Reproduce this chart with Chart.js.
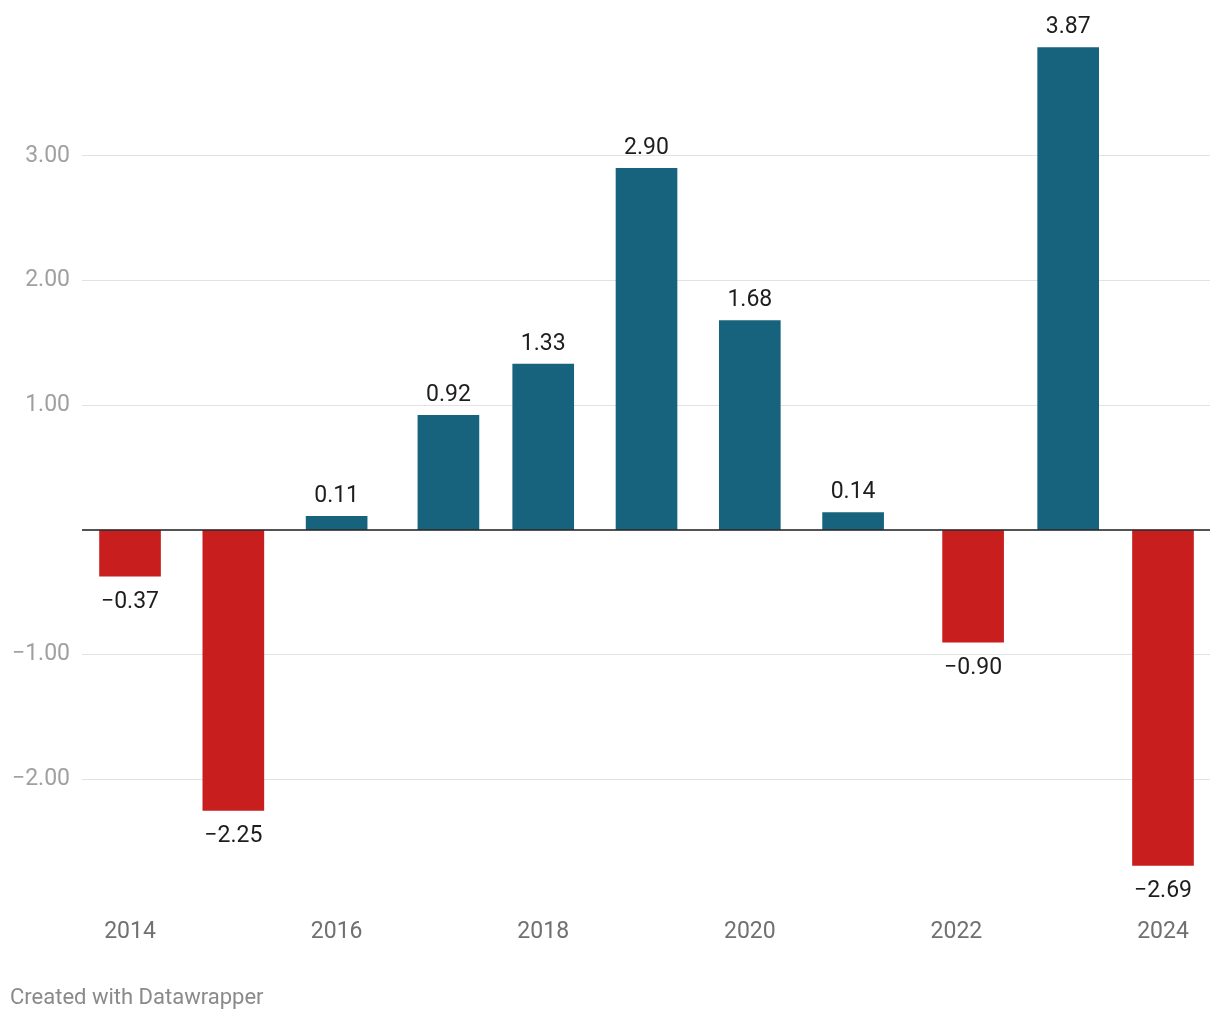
<!DOCTYPE html>
<html>
<head>
<meta charset="utf-8">
<script src="https://cdn.jsdelivr.net/npm/chart.js@4/dist/chart.umd.min.js"></script>
<style>
  html, body { margin: 0; padding: 0; background: #ffffff; }
  #wrap { position: relative; width: 1220px; height: 1020px; }
  #footer { position: absolute; left: 10px; top: 984px; font: 22px Roboto, sans-serif; color: #8a8a8a; line-height: 26px; }
</style>
</head>
<body>
<div id="wrap">
  <canvas id="chart" width="1220" height="1020"></canvas>
  <div id="footer">Created with Datawrapper</div>
</div>
<script>
// Data
const dates = ['2014-01-01', '2015-01-01', '2016-01-01', '2017-01-31', '2018-01-01', '2019-01-01',
               '2020-01-01', '2021-01-01', '2022-03-01', '2023-01-31', '2024-01-01'];
const values = [-0.37, -2.25, 0.11, 0.92, 1.33, 2.90, 1.68, 0.14, -0.90, 3.87, -2.69];
const xTickYears = [2014, 2016, 2018, 2020, 2022, 2024];
const yTickValues = [-2, -1, 0, 1, 2, 3];

const BLUE = '#17627c';
const RED = '#c81e1e';

function toYearFraction(s) {
  const d = new Date(s + 'T00:00:00Z');
  const y = d.getUTCFullYear();
  const start = Date.UTC(y, 0, 1), end = Date.UTC(y + 1, 0, 1);
  return y + (d.getTime() - start) / (end - start);
}
function fmt(v) {
  return (v < 0 ? '\u2212' : '') + Math.abs(v).toFixed(2);
}

const points = dates.map((d, i) => ({ x: toYearFraction(d), y: values[i] }));

const labelPlugin = {
  id: 'barLabels',
  afterDatasetsDraw(chart) {
    const ctx = chart.ctx;
    const area = chart.chartArea;
    const yScale = chart.scales.y;
    const y0 = yScale.getPixelForValue(0);
    ctx.save();
    ctx.strokeStyle = '#1a1a1a';
    ctx.lineWidth = 1.6;
    ctx.beginPath();
    ctx.moveTo(area.left, y0);
    ctx.lineTo(area.right, y0);
    ctx.stroke();

    ctx.font = '23px Roboto, sans-serif';
    ctx.fillStyle = '#1d1d1d';
    ctx.textAlign = 'center';
    ctx.textBaseline = 'middle';
    const meta = chart.getDatasetMeta(0);
    meta.data.forEach((el, i) => {
      const v = values[i];
      const y = v >= 0 ? el.y - 20 : el.y + 26;
      ctx.fillText(fmt(v), el.x, y);
    });
    ctx.restore();
  }
};

new Chart(document.getElementById('chart'), {
  type: 'bar',
  data: {
    datasets: [{
      data: points,
      backgroundColor: values.map(v => v < 0 ? RED : BLUE),
      barThickness: 61,
      borderWidth: 0
    }]
  },
  options: {
    responsive: false,
    animation: false,
    layout: { padding: { top: 0, right: 10, bottom: 66, left: 0 } },
    plugins: { legend: { display: false }, tooltip: { enabled: false } },
    scales: {
      x: {
        type: 'linear',
        offset: false,
        min: 2013.535,
        max: 2024.455,
        afterBuildTicks(scale) { scale.ticks = xTickYears.map(v => ({ value: v })); },
        afterFit(scale) { scale.height = 50; },
        grid: { display: false, drawTicks: false },
        border: { display: false },
        ticks: {
          autoSkip: false,
          maxRotation: 0,
          padding: 14,
          color: '#707070',
          font: { family: 'Roboto', size: 23 },
          callback: v => String(v)
        }
      },
      y: {
        min: -3.0,
        max: 4.044,
        afterBuildTicks(scale) { scale.ticks = yTickValues.map(v => ({ value: v })); },
        afterFit(scale) { scale.width = 82; },
        grid: {
          drawTicks: false,
          color: c => c.tick && c.tick.value === 0 ? 'rgba(0,0,0,0)' : '#e2e2e2',
          lineWidth: 1
        },
        border: { display: false },
        ticks: {
          padding: 12,
          color: '#a0a0a0',
          font: { family: 'Roboto', size: 23 },
          callback: v => v === 0 ? '' : fmt(v)
        }
      }
    }
  },
  plugins: [labelPlugin]
});
</script>
</body>
</html>
